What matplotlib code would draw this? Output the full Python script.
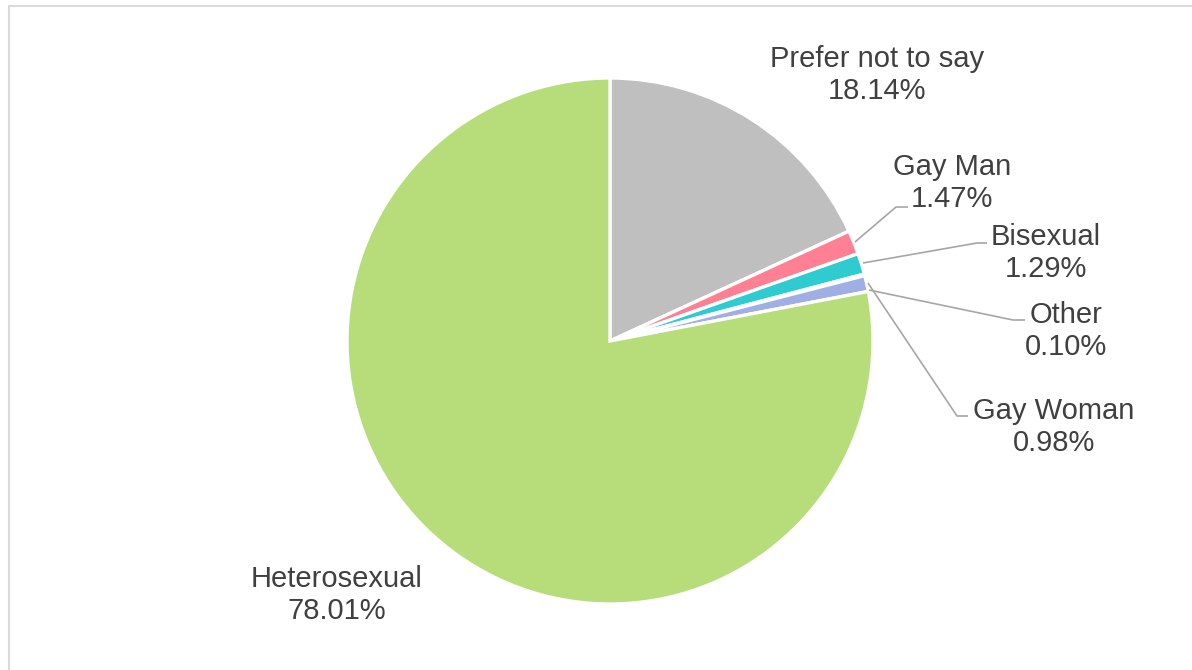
import matplotlib
matplotlib.use("Agg")
import matplotlib.pyplot as plt
from matplotlib.patches import Rectangle

labels = ["Prefer not to say", "Gay Man", "Bisexual", "Other", "Gay Woman", "Heterosexual"]
values = [18.14, 1.47, 1.29, 0.10, 0.98, 78.01]
colors = ["#BFBFBF", "#FF7F93", "#2ECBD1", "#F4B183", "#9FAEE4", "#B7DD7B"]

# label placement (pixel coords, y from top) and leader lines
label_pos = {
    "Prefer not to say": (877, 75),
    "Gay Man": (952, 183),
    "Bisexual": (1046, 253),
    "Other": (1066, 331),
    "Gay Woman": (1054, 427),
    "Heterosexual": (337, 595),
}
leaders = {
    "Gay Man": [(855, 242), (896, 207), (908, 207)],
    "Bisexual": [(863, 263), (977, 243), (987, 243)],
    "Other": [(869, 290), (1013, 320), (1025, 320)],
    "Gay Woman": [(868, 283), (957, 416), (968, 416)],
}

W, H = 1192, 670
fig = plt.figure(figsize=(W / 100, H / 100), dpi=100)
ax = fig.add_axes([0, 0, 1, 1])
ax.set_xlim(0, W)
ax.set_ylim(0, H)
ax.set_aspect("equal")
ax.axis("off")

ax.add_patch(Rectangle((8.5, -10), W + 20, H - 5 + 10 - 0.5, fill=False,
                       edgecolor="#D9D9D9", linewidth=1.5))

ax.pie(values, colors=colors, startangle=90, counterclock=False,
       center=(610, H - 341), radius=263,
       wedgeprops=dict(edgecolor="white", linewidth=2.4))
ax.set_xlim(0, W)
ax.set_ylim(0, H)

for name, pts in leaders.items():
    xs = [p[0] for p in pts]
    ys = [H - p[1] for p in pts]
    ax.plot(xs, ys, color="#A6A6A6", linewidth=1.2, solid_capstyle="butt")

for name, v in zip(labels, values):
    x, y = label_pos[name]
    ax.text(x, H - y, f"{name}\n{v:.2f}%", ha="center", va="center",
            fontsize=21, color="#404040", family="Liberation Sans",
            linespacing=1.2)

fig.savefig("out.png", dpi=100)
